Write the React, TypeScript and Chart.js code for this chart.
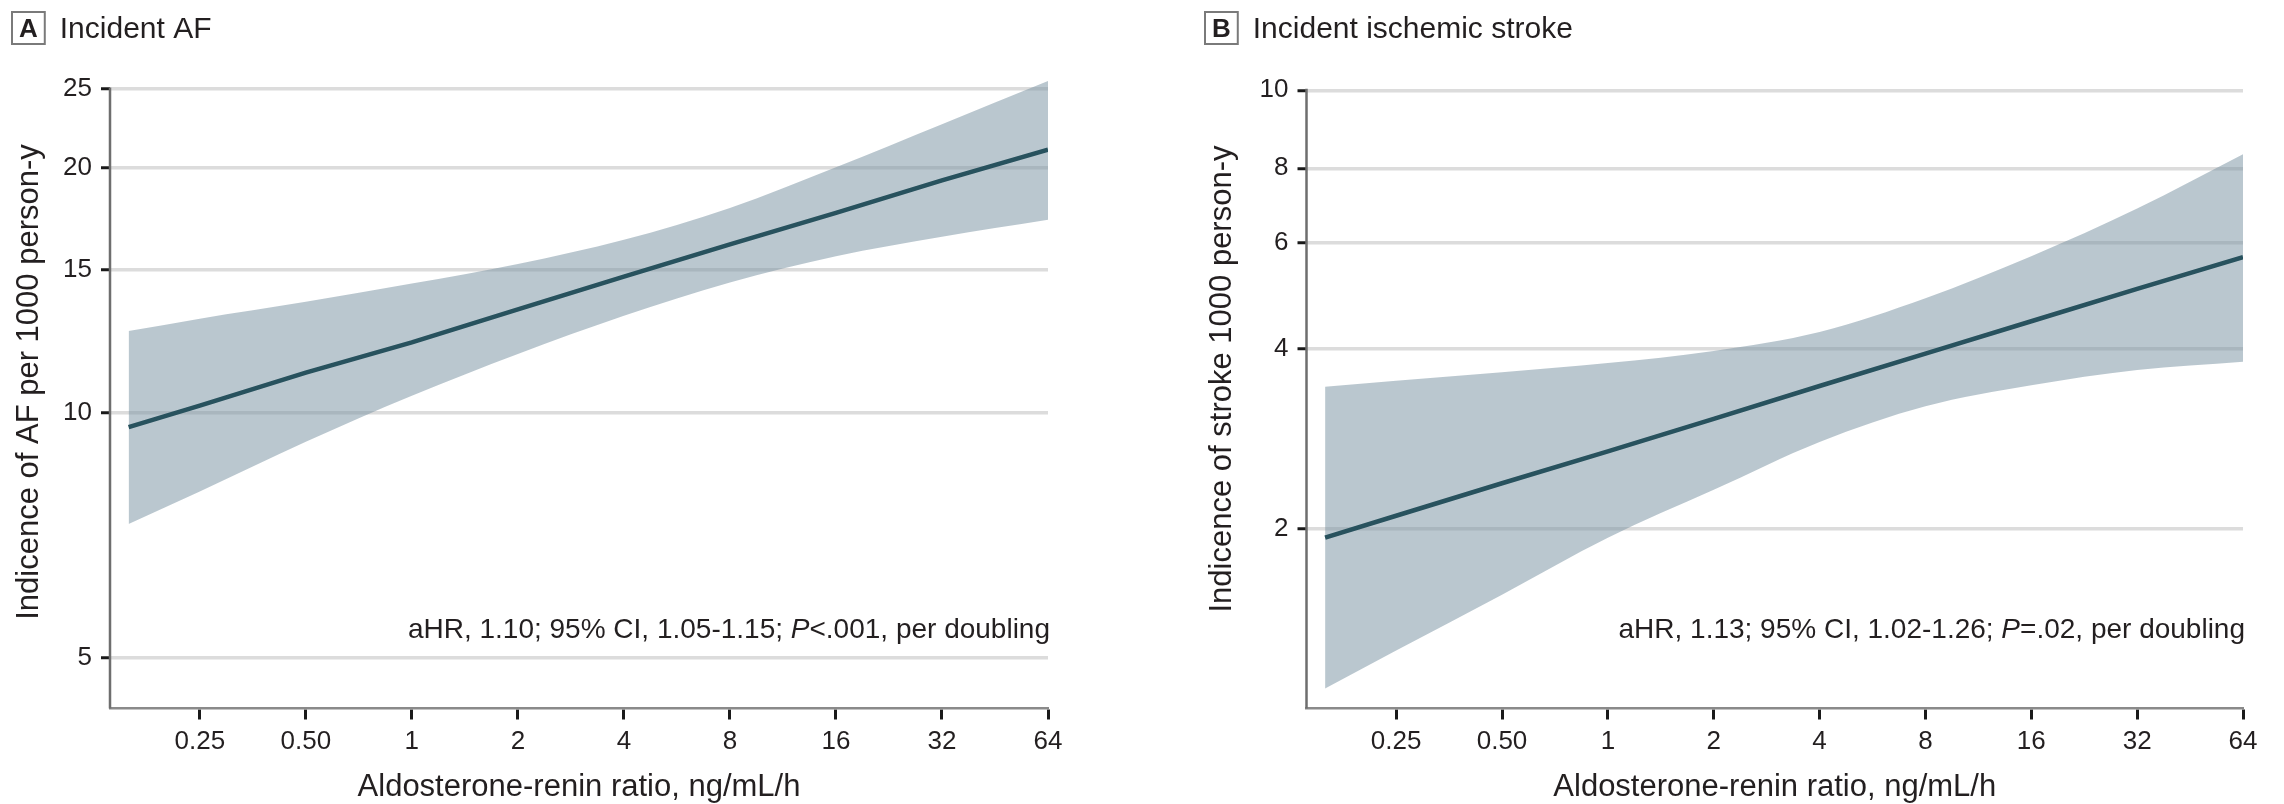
import React, { useEffect, useRef } from "react";
import { Chart, registerables } from "chart.js";

Chart.register(...registerables);

// ---------- data ----------
const xValues = [0.157, 0.25, 0.5, 1, 2, 4, 8, 16, 32, 64];
const xTickValues = [0.25, 0.5, 1, 2, 4, 8, 16, 32, 64];
const xTickLabels = ["0.25", "0.50", "1", "2", "4", "8", "16", "32", "64"];

const afLine = [9.6, 10.2, 11.2, 12.2, 13.4, 14.7, 16.1, 17.6, 19.3, 21.05];
const afUpper = [12.6, 13.05, 13.69, 14.41, 15.23, 16.31, 17.85, 20.03, 22.62, 25.56];
const afLower = [7.3, 8.0, 9.21, 10.49, 11.81, 13.16, 14.46, 15.57, 16.45, 17.26];
const afYTickValues = [5, 10, 15, 20, 25];
const afYTickLabels = ["5", "10", "15", "20", "25"];

const strokeLine = [1.93, 2.1, 2.38, 2.69, 3.05, 3.46, 3.92, 4.44, 5.03, 5.68];
const strokeUpper = [3.45, 3.53, 3.65, 3.78, 3.96, 4.26, 4.85, 5.7, 6.85, 8.44];
const strokeLower = [1.08, 1.25, 1.55, 1.93, 2.32, 2.79, 3.2, 3.47, 3.68, 3.8];
const strokeYTickValues = [2, 4, 6, 8, 10.8];
const strokeYTickLabels = ["2", "4", "6", "8", "10"];

const xTitle = "Aldosterone-renin ratio, ng/mL/h";

// ---------- style ----------
const FONT = '"Liberation Sans", Arial, sans-serif';
const TEXT = "#231f20";
const BAND = "rgba(118,144,160,0.5)";
const LINE = "#28525e";
const GRID = "#dcdcdc";

const W = 1142;
const H = 804;

type Seg = { text: string; italic?: boolean };

const decorPlugin = {
  id: "decor",
  afterDraw(chart: any, _args: any, opts: any) {
    const ctx = chart.ctx as CanvasRenderingContext2D;
    const { left, bottom } = chart.chartArea;
    const yScale = chart.scales.y;
    ctx.save();
    // y axis line from top tick down to x axis
    const topY = yScale.getPixelForValue(opts.axisTop);
    ctx.strokeStyle = "#6e6e6e";
    ctx.lineWidth = 2.5;
    ctx.beginPath();
    ctx.moveTo(left, topY - 1.5);
    ctx.lineTo(left, bottom);
    ctx.stroke();

    // panel letter box
    ctx.font = `bold 26px ${FONT}`;
    const lw = ctx.measureText(opts.letter).width;
    const bw = lw + 14;
    const bh = 32;
    ctx.strokeStyle = "#7a7a7a";
    ctx.lineWidth = 2;
    ctx.strokeRect(opts.boxX, 12, bw, bh);
    ctx.fillStyle = TEXT;
    ctx.textAlign = "center";
    ctx.textBaseline = "alphabetic";
    ctx.fillText(opts.letter, opts.boxX + bw / 2, 37);

    // panel title
    ctx.font = `30px ${FONT}`;
    ctx.textAlign = "left";
    ctx.fillText(opts.title, opts.boxX + bw + 15, 38);

    // y axis title
    ctx.save();
    ctx.translate(opts.yTitleX, opts.yTitleY);
    ctx.rotate(-Math.PI / 2);
    ctx.font = `31px ${FONT}`;
    ctx.textAlign = "center";
    ctx.textBaseline = "middle";
    ctx.fillText(opts.yTitle, 0, 0);
    ctx.restore();

    // annotation (right aligned, italic P)
    const segs: Seg[] = opts.annotation;
    const fontFor = (s: Seg) => `${s.italic ? "italic " : ""}28px ${FONT}`;
    let total = 0;
    for (const s of segs) {
      ctx.font = fontFor(s);
      total += ctx.measureText(s.text).width;
    }
    let x = chart.chartArea.right + 2 - total;
    ctx.textAlign = "left";
    ctx.textBaseline = "alphabetic";
    for (const s of segs) {
      ctx.font = fontFor(s);
      ctx.fillText(s.text, x, 638);
      x += ctx.measureText(s.text).width;
    }
    ctx.restore();
  },
};

type PanelProps = {
  left: number;
  letter: string;
  title: string;
  yTitle: string;
  line: number[];
  upper: number[];
  lower: number[];
  yTicks: number[];
  yLabels: string[];
  yMin: number;
  yMax: number;
  annotation: Seg[];
  yAxisWidth: number;
  padRight: number;
  padTop: number;
  boxX: number;
  yTitleX: number;
  yTitleY: number;
};

function Panel(p: PanelProps) {
  const ref = useRef<HTMLCanvasElement | null>(null);
  useEffect(() => {
    const toPts = (arr: number[]) => xValues.map((x, i) => ({ x, y: arr[i] }));
    const chart = new Chart(ref.current as HTMLCanvasElement, {
      type: "line",
      data: {
        datasets: [
          {
            label: "estimate",
            data: toPts(p.line),
            borderColor: LINE,
            borderWidth: 4.5,
            pointRadius: 0,
            fill: false,
            tension: 0,
          },
          {
            label: "upper",
            data: toPts(p.upper),
            borderColor: "transparent",
            borderWidth: 0,
            pointRadius: 0,
            backgroundColor: BAND,
            fill: "+1",
            cubicInterpolationMode: "monotone",
          },
          {
            label: "lower",
            data: toPts(p.lower),
            borderColor: "transparent",
            borderWidth: 0,
            pointRadius: 0,
            fill: false,
            cubicInterpolationMode: "monotone",
          },
        ],
      } as any,
      options: {
        animation: false,
        responsive: false,
        devicePixelRatio: 1,
        events: [],
        layout: { padding: { left: 0, right: p.padRight, top: p.padTop, bottom: 0 } },
        plugins: {
          legend: { display: false },
          tooltip: { enabled: false },
          decor: {
            axisTop: p.yTicks[p.yTicks.length - 1],
            letter: p.letter,
            title: p.title,
            yTitle: p.yTitle,
            annotation: p.annotation,
            boxX: p.boxX,
            yTitleX: p.yTitleX,
            yTitleY: p.yTitleY,
          },
        } as any,
        scales: {
          x: {
            type: "logarithmic",
            min: 0.139,
            max: 64,
            afterBuildTicks: (s: any) => {
              s.ticks = xTickValues.map((v) => ({ value: v }));
            },
            afterFit: (s: any) => {
              s.height = 95.5;
            },
            ticks: {
              autoSkip: false,
              maxRotation: 0,
              padding: 7,
              color: TEXT,
              font: { family: FONT, size: 26 },
              callback: (_v: any, i: number) => xTickLabels[i],
            },
            grid: {
              drawOnChartArea: false,
              drawTicks: true,
              tickLength: 11,
              tickColor: "#1a1a1a",
              tickWidth: 3,
            },
            border: { display: true, color: "#8a8a8a", width: 2.5 },
            title: {
              display: true,
              text: xTitle,
              color: TEXT,
              font: { family: FONT, size: 31 },
              padding: { top: 0, bottom: -2 },
            },
          },
          y: {
            type: "logarithmic",
            min: p.yMin,
            max: p.yMax,
            afterBuildTicks: (s: any) => {
              s.ticks = p.yTicks.map((v) => ({ value: v }));
            },
            afterFit: (s: any) => {
              s.width = p.yAxisWidth;
            },
            ticks: {
              autoSkip: false,
              padding: 9,
              color: TEXT,
              font: { family: FONT, size: 26 },
              callback: (_v: any, i: number) => p.yLabels[i],
            },
            grid: {
              color: GRID,
              lineWidth: 3.5,
              drawTicks: true,
              tickLength: 9,
              tickColor: "#1a1a1a",
              tickWidth: 3,
            },
            border: { display: false },
          },
        } as any,
      },
      plugins: [decorPlugin as any],
    });
    return () => chart.destroy();
  }, []);
  return (
    <canvas
      ref={ref}
      width={W}
      height={H}
      style={{ position: "absolute", left: p.left, top: 0, width: W, height: H }}
    />
  );
}

export default function App() {
  return (
    <div
      style={{
        position: "absolute",
        left: 0,
        top: 0,
        width: 2284,
        height: 804,
        background: "#ffffff",
        overflow: "hidden",
      }}
    >
      <Panel
        left={0}
        letter="A"
        title="Incident AF"
        yTitle="Indicence of AF per 1000 person-y"
        line={afLine}
        upper={afUpper}
        lower={afLower}
        yTicks={afYTickValues}
        yLabels={afYTickLabels}
        yMin={4.33}
        yMax={27}
        annotation={[
          { text: "aHR, 1.10; 95% CI, 1.05-1.15; " },
          { text: "P", italic: true },
          { text: "<.001, per doubling" },
        ]}
        yAxisWidth={110}
        padRight={94}
        padTop={61.7}
        boxX={12}
        yTitleX={29}
        yTitleY={382}
      />
      <Panel
        left={1142}
        letter="B"
        title="Incident ischemic stroke"
        yTitle="Indicence of stroke 1000 person-y"
        line={strokeLine}
        upper={strokeUpper}
        lower={strokeLower}
        yTicks={strokeYTickValues}
        yLabels={strokeYTickLabels}
        yMin={1}
        yMax={10.8}
        annotation={[
          { text: "aHR, 1.13; 95% CI, 1.02-1.26; " },
          { text: "P", italic: true },
          { text: "=.02, per doubling" },
        ]}
        yAxisWidth={164.5}
        padRight={41}
        padTop={90.3}
        boxX={63}
        yTitleX={80}
        yTitleY={379}
      />
    </div>
  );
}
